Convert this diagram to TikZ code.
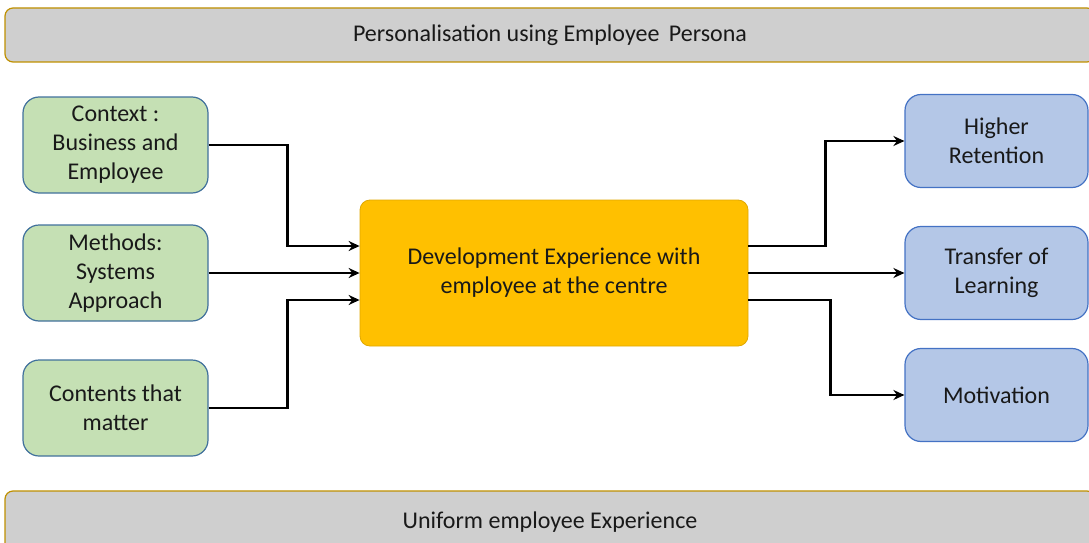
\documentclass[tikz,border=0pt]{standalone}
\usepackage{fontspec}
\setmainfont{Carlito}
\usetikzlibrary{arrows.meta,calc}
\definecolor{barfill}{HTML}{CFCFCF}
\definecolor{barline}{HTML}{BF9000}
\definecolor{greenfill}{HTML}{C5E0B4}
\definecolor{greenline}{HTML}{41719C}
\definecolor{bluefill}{HTML}{B4C7E7}
\definecolor{blueline}{HTML}{4472C4}
\definecolor{corefill}{HTML}{FFC000}
\definecolor{coreline}{HTML}{E0A800}

\begin{document}
\begin{tikzpicture}[x=1pt,y=-1pt,
  every node/.style={font=\fontsize{24}{29}\selectfont, align=center, inner sep=0pt, text=black!90},
  bar/.style={draw=barline, line width=1.2pt, fill=barfill, rounded corners=8pt, minimum width=1090pt},
  inbox/.style={draw=greenline, line width=1.2pt, fill=greenfill, rounded corners=16pt,
                minimum width=185pt, minimum height=96pt},
  outbox/.style={draw=blueline, line width=1.2pt, fill=bluefill, rounded corners=16pt,
                 minimum width=183pt, minimum height=93pt},
  core/.style={draw=coreline, line width=0.8pt, fill=corefill, rounded corners=10pt,
               minimum width=388pt, minimum height=146pt},
  link/.style={line width=2.7pt, -{Stealth[length=11pt,width=10pt]}}
]
\useasboundingbox (0,0) rectangle (1089,543);
\clip (0,0) rectangle (1089,543);

% top and bottom bands
\node[bar, minimum height=54pt] (persona) at (550,35) {Personalisation using Employee\hspace{4pt} Persona};
\node[bar, minimum height=62pt] (uniform) at (550,522) {\raisebox{4pt}{Uniform employee Experience}};

% inputs
\node[inbox] (ctx) at (115.5,145) {Context :\\Business and\\Employee};
\node[inbox] (meth) at (115.5,273) {Methods:\\Systems\\Approach};
\node[inbox] (cont) at (115.5,408) {Contents that\\matter};

% core
\node[core] (dev) at (554,273) {Development Experience with\\employee at the centre};

% outcomes
\node[outbox] (ret) at (996.5,141) {Higher\\Retention};
\node[outbox] (tol) at (996.5,273) {Transfer of\\Learning};
\node[outbox] (mot) at (996.5,395) {Motivation};

% converging connectors
\draw[link] (ctx.east) -| ($(dev.west)+(-72,-27)$) -- ($(dev.west)+(0,-27)$);
\draw[link] (meth.east) -- (dev.west);
\draw[link] (cont.east) -| ($(dev.west)+(-72,27)$) -- ($(dev.west)+(0,27)$);

% diverging connectors
\draw[link] ($(dev.east)+(0,-27)$) -- ++(77,0) |- (ret.west);
\draw[link] (dev.east) -- (tol.west);
\draw[link] ($(dev.east)+(0,27)$) -- ++(82,0) |- (mot.west);
\end{tikzpicture}
\end{document}
